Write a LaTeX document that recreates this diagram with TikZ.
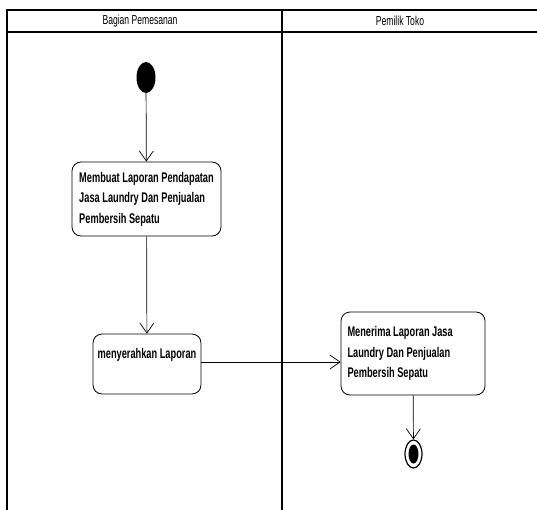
\documentclass[tikz,border=0pt]{standalone}
\usepackage{fontspec}
\newfontfamily\lanefont{Liberation Sans}[FakeStretch=0.66]
\usepackage{tikz}
\usetikzlibrary{arrows.meta, positioning, calc, shapes.geometric}

\begin{document}
\begin{tikzpicture}[x=1pt, y=-1pt,
    laneline/.style={line width=1.8pt, black},
    lanehead/.style={font=\lanefont\fontsize{13}{15}\selectfont, inner sep=0pt},
    action/.style={draw, line width=0.8pt, rounded corners=9pt, align=left,
      font=\lanefont\bfseries\fontsize{14}{20.5}\selectfont, inner sep=0pt},
    flow/.style={draw, line width=0.7pt, -{Straight Barb[length=10pt, width=14pt, line width=0.7pt]}}]
  \useasboundingbox (0,0) rectangle (537,510);
  % Swimlanes
  \draw[laneline] (7,510) -- (7,10) -- (537,10);
  \draw[laneline] (7,32) -- (537,32);
  \draw[laneline] (282,10) -- (282,510);
  \node[lanehead] (laneA) at (140,21) {Bagian Pemesanan};
  \node[lanehead] (laneB) at (400,21) {Pemilik Toko};
  % Start / end
  \node[ellipse, fill=black, minimum width=19pt, minimum height=31pt, inner sep=0pt] (start) at (146,77.5) {};
  \node[ellipse, draw, line width=1.2pt, minimum width=17pt, minimum height=28pt, inner sep=0pt] (stop) at (413.5,454) {};
  \node[ellipse, fill=black, minimum width=10pt, minimum height=19pt, inner sep=0pt] (stopdot) at (stop.center) {};
  % Actions
  \node[action, minimum width=149pt, minimum height=74pt] (buat) at (146.5,199)
    {Membuat Laporan Pendapatan\\Jasa Laundry Dan Penjualan\\Pembersih Sepatu};
  \node[action, align=center, minimum width=108pt, minimum height=60pt] (serah) at (147,364)
    {menyerahkan Laporan\\\mbox{}};
  \node[action, minimum width=144pt, minimum height=83pt] (terima) at (413,353.5)
    {Menerima Laporan Jasa\\\makebox[131pt][l]{Laundry Dan Penjualan}\\Pembersih Sepatu};
  % Flows
  \draw[flow] (start) -- (buat);
  \draw[flow] (buat) -- (serah);
  \draw[flow] ($(serah.east)+(0,-2)$) -- ($(serah.east -| terima.west)+(0,-2)$);
  \draw[flow] (terima) -- (stop);
\end{tikzpicture}
\end{document}
